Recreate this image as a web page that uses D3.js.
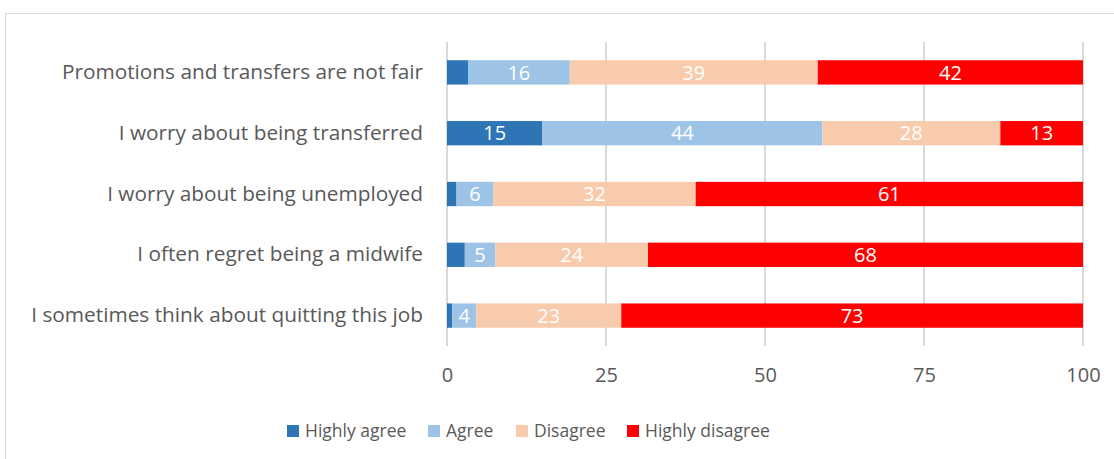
<!DOCTYPE html>
<html>
<head>
    <meta charset="utf-8">
    <style>
        body { margin: 0; background: white; }
        svg { font-family: 'Open Sans', 'Noto Sans', Arial, sans-serif; }
        .grid line { stroke: #d9d9d9; stroke-width: 2px; }
    </style>
</head>
<body>
<svg width="1114" height="459" id="chart"></svg>
<script src="https://d3js.org/d3.v7.min.js"></script>
<script>
    // data, top to bottom
    const categories = [
        "Promotions and transfers are not fair",
        "I worry about being transferred",
        "I worry about being unemployed",
        "I often regret being a midwife",
        "I sometimes think about quitting this job"
    ]
    const seriesNames = ["Highly agree", "Agree", "Disagree", "Highly disagree"]
    const highlyAgree    = [3.3, 15, 1.5, 2.8, 0.8]
    const agree          = [16, 44, 5.8, 4.8, 3.8]
    const disagree       = [39, 28, 31.8, 24, 22.8]
    const highlyDisagree = [41.7, 13, 60.9, 68.4, 72.6]
    const xTicks = [0, 25, 50, 75, 100]

    const colors = ["#2e75b6", "#9dc3e6", "#f8cbad", "#ff0000"]
    const font = "'Open Sans', 'Noto Sans', Arial, sans-serif"

    let svg = d3.select("#chart")

    // outer chart border
    svg.append("rect")
        .attr("x", 5.5).attr("y", 13.5)
        .attr("width", 1120).attr("height", 460)
        .style("fill", "none")
        .style("stroke", "#d9d9d9")

    let x = d3.scaleLinear()
        .domain([0, 100])
        .range([447, 1083])

    let y = d3.scaleBand()
        .domain(categories)
        .range([42, 346])
        .paddingInner(0.6)
        .paddingOuter(0.3)

    // gridlines
    svg.append("g")
        .attr("class", "grid")
        .selectAll("line")
        .data(xTicks)
        .join("line")
        .attr("x1", d => x(d)).attr("x2", d => x(d))
        .attr("y1", 42).attr("y2", 346)

    let rows = categories.map((c, i) => ({
        cat: c,
        values: [highlyAgree[i], agree[i], disagree[i], highlyDisagree[i]]
    }))

    let segs = []
    rows.forEach(r => {
        let acc = 0
        r.values.forEach((v, k) => {
            segs.push({ cat: r.cat, k: k, v: v, x0: acc, x1: acc + v })
            acc += v
        })
    })

    svg.append("g")
        .selectAll("rect")
        .data(segs)
        .join("rect")
        .attr("x", d => x(d.x0))
        .attr("y", d => y(d.cat))
        .attr("width", d => x(d.x1) - x(d.x0))
        .attr("height", y.bandwidth())
        .style("fill", d => colors[d.k])

    // value labels
    svg.append("g")
        .selectAll("text")
        .data(segs.filter(d => d.v >= 3.5))
        .join("text")
        .attr("x", d => x((d.x0 + d.x1) / 2))
        .attr("y", d => y(d.cat) + y.bandwidth() / 2)
        .attr("dy", "0.36em")
        .attr("text-anchor", "middle")
        .style("fill", "white")
        .style("font-size", "20px")
        .text(d => Math.round(d.v))

    // category labels
    let yAxis = svg.append("g")
        .attr("transform", "translate(447,0)")
        .call(d3.axisLeft(y).tickSize(0).tickPadding(24))
    yAxis.select(".domain").remove()
    yAxis.selectAll("text")
        .style("font-size", "20.8px")
        .style("font-family", font)
        .style("fill", "#595959")

    // x axis labels
    let xAxis = svg.append("g")
        .attr("transform", "translate(0,346)")
        .call(d3.axisBottom(x).tickValues(xTicks).tickSize(0).tickPadding(22))
    xAxis.select(".domain").remove()
    xAxis.selectAll("text")
        .style("font-size", "20px")
        .style("font-family", font)
        .style("fill", "#595959")

    // legend
    const legendX = [287, 428, 516, 627]
    let legend = svg.append("g")
        .selectAll("g")
        .data(seriesNames)
        .join("g")
        .attr("transform", (d, i) => `translate(${legendX[i]},425)`)
    legend.append("rect")
        .attr("width", 12).attr("height", 12)
        .style("fill", (d, i) => colors[i])
    legend.append("text")
        .attr("x", 18).attr("y", 6)
        .attr("dy", "0.36em")
        .style("font-size", "17.5px")
        .style("fill", "#595959")
        .text(d => d)
</script>
</body>
</html>
